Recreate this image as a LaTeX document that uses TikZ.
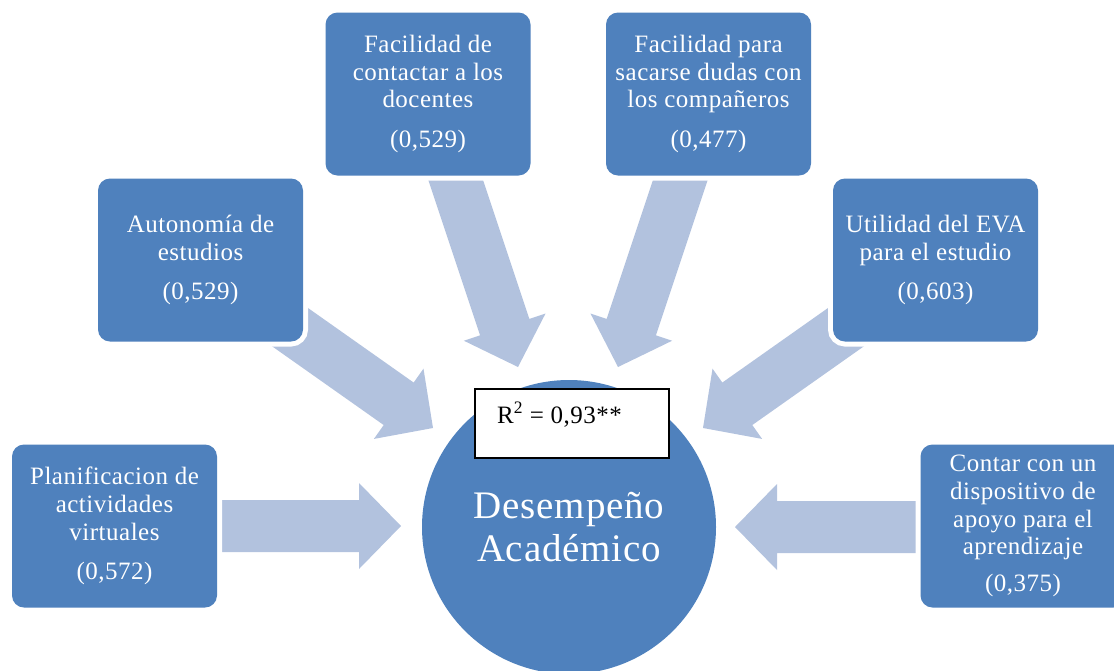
\documentclass[tikz,border=0pt]{standalone}
\usepackage{fontspec}
\setmainfont{Liberation Serif}[LetterSpace=2]
\usetikzlibrary{calc}
\definecolor{boxc}{HTML}{4F81BD}
\definecolor{arrowc}{HTML}{B2C2DE}
\newcommand\boxfont{\fontsize{25}{27.8}\selectfont}
\newcommand\circfont{\fontsize{39}{43.5}\selectfont}
\newcommand\rfont{\fontsize{25}{27}\selectfont}
\newcommand\fatarrow[2]{%
  \coordinate (hb) at ($(#2)!42pt!(#1)$);
  \fill[arrowc] ($(#1)!26pt!90:(#2)$) -- ($(hb)!26pt!90:(#2)$) -- ($(hb)!43pt!90:(#2)$) -- (#2)
     -- ($(hb)!43pt!-90:(#2)$) -- ($(hb)!26pt!-90:(#2)$) -- ($(#1)!26pt!-90:(#2)$) -- cycle;}
\begin{document}
\begin{tikzpicture}[x=1pt,y=-1pt,
  box/.style={rectangle, rounded corners=12pt, fill=boxc, minimum width=205pt,
    minimum height=163pt, text=white, align=center, font=\boxfont, inner sep=0pt,
    preaction={draw=white, line width=10pt}},
  hub/.style={circle, fill=boxc, minimum size=294pt, inner sep=0pt, text=white,
    align=center, font=\circfont},
  rbox/.style={draw=black, line width=1.5pt, fill=white, minimum width=194pt,
    minimum height=69pt, inner sep=0pt}]
\useasboundingbox (0,0) rectangle (1114,670);
% arrow ends
\coordinate (t1) at (200,526); \coordinate (h1) at (401,526);
\coordinate (t2) at (253,301); \coordinate (h2) at (433,428);
\coordinate (t3) at (442,139); \coordinate (h3) at (518,367);
\coordinate (t4) at (694,139); \coordinate (h4) at (618,367);
\coordinate (t5) at (883,301); \coordinate (h5) at (703,428);
\coordinate (t6) at (940,527); \coordinate (h6) at (735,527);
\fatarrow{t1}{h1}
\fatarrow{t2}{h2}
\fatarrow{t3}{h3}
\fatarrow{t4}{h4}
\fatarrow{t5}{h5}
\fatarrow{t6}{h6}
% boxes
\node[box] (plan) at (114.5,526) {Planificacion de\\actividades\\virtuales\\[12pt](0,572)};
\node[box] (auto) at (200.5,260) {Autonomía de\\estudios\\[12pt](0,529)};
\node[box] (doc) at (428,94) {Facilidad de\\contactar a los\\docentes\\[12pt](0,529)};
\node[box] (comp) at (708.5,94) {Facilidad para\\sacarse dudas con\\los compañeros\\[12pt](0,477)};
\node[box] (util) at (935.5,260) {Utilidad del EVA\\para el estudio\\[12pt](0,603)};
\node[box] (disp) at (1023,526) {Contar con un\\dispositivo de\\apoyo para el\\aprendizaje\\[9pt](0,375)};
% hub
\node[hub] (des) at (569,527) {Desempeño\\Académico};
\node[rbox, anchor=north west] (r2) at (474,388) {};
\node[anchor=base west, font=\rfont, inner sep=0pt] (r2t) at (497,423) {R\textsuperscript{2} = 0,93**};
\end{tikzpicture}
\end{document}
